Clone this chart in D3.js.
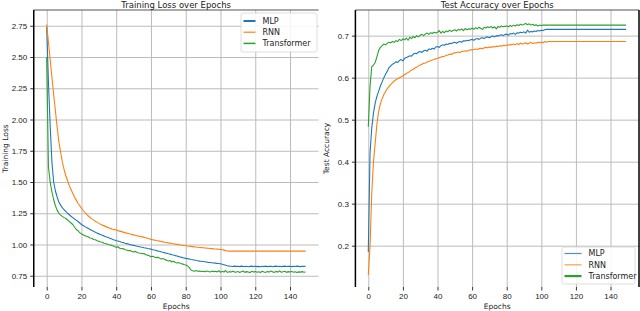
<!DOCTYPE html>
<html>
<head>
<meta charset="utf-8">
<script src="https://cdn.jsdelivr.net/npm/d3@7"></script>
<style>
  body { margin: 0; background: #fff; }
  svg { display: block; font-family: 'DejaVu Sans', sans-serif; }
  .tick text { fill: #222; font-size: 8px; }
  .axis path { display: none; }
  .axis line { stroke: #333; }
  .grid line { stroke: #bcbcbc; stroke-width: 1; }
  .grid path { display: none; }
  .grid text { display: none; }
</style>
</head>
<body>
<div id="svg-container"></div>
<script>
const series_names = ['MLP', 'RNN', 'Transformer'];
const series_colors = ['#1f77b4', '#ff7f0e', '#2ca02c'];

const x_ticks = [0, 20, 40, 60, 80, 100, 120, 140];
const loss_ticks = [0.75, 1.00, 1.25, 1.50, 1.75, 2.00, 2.25, 2.50, 2.75];
const acc_ticks = [0.2, 0.3, 0.4, 0.5, 0.6, 0.7];

// training loss per epoch (0..149)
const loss_mlp = [
  2.74, 2.30, 1.95, 1.66, 1.50, 1.43, 1.38, 1.34, 1.315, 1.295,
  1.278, 1.265, 1.25, 1.238, 1.226, 1.215, 1.204, 1.195, 1.184, 1.172,
  1.160, 1.152, 1.143, 1.136, 1.128, 1.120, 1.112, 1.106, 1.098, 1.091,
  1.085, 1.080, 1.073, 1.068, 1.062, 1.058, 1.052, 1.047, 1.040, 1.036,
  1.030, 1.028, 1.024, 1.018, 1.016, 1.010, 1.007, 1.004, 0.999, 0.996,
  0.993, 0.990, 0.986, 0.984, 0.980, 0.978, 0.974, 0.972, 0.968, 0.966,
  0.963, 0.958, 0.956, 0.952, 0.947, 0.946, 0.940, 0.938, 0.933, 0.930,
  0.926, 0.923, 0.918, 0.916, 0.911, 0.908, 0.903, 0.900, 0.895, 0.892,
  0.889, 0.887, 0.884, 0.880, 0.878, 0.876, 0.872, 0.870, 0.867, 0.866,
  0.864, 0.862, 0.860, 0.857, 0.856, 0.854, 0.852, 0.851, 0.849, 0.848,
  0.846, 0.842, 0.838, 0.834, 0.830, 0.827, 0.826, 0.824, 0.827, 0.825,
  0.826, 0.823, 0.827, 0.825, 0.824, 0.826, 0.822, 0.825, 0.827, 0.824,
  0.826, 0.823, 0.825, 0.822, 0.826, 0.824, 0.827, 0.823, 0.825, 0.826,
  0.822, 0.825, 0.827, 0.824, 0.826, 0.823, 0.825, 0.827, 0.824, 0.826,
  0.825, 0.823, 0.826, 0.824, 0.827, 0.825, 0.823, 0.826, 0.825, 0.826
];
const loss_rnn = [
  2.76, 2.62, 2.48, 2.34, 2.20, 2.07, 1.94, 1.82, 1.74, 1.66,
  1.60, 1.55, 1.51, 1.47, 1.44, 1.41, 1.38, 1.355, 1.33, 1.31,
  1.29, 1.272, 1.256, 1.241, 1.228, 1.216, 1.205, 1.195, 1.186, 1.177,
  1.169, 1.162, 1.155, 1.149, 1.143, 1.137, 1.132, 1.127, 1.122, 1.119,
  1.116, 1.111, 1.107, 1.103, 1.099, 1.095, 1.091, 1.088, 1.084, 1.081,
  1.077, 1.074, 1.070, 1.067, 1.064, 1.061, 1.057, 1.054, 1.050, 1.046,
  1.041, 1.038, 1.035, 1.032, 1.030, 1.027, 1.024, 1.021, 1.018, 1.016,
  1.013, 1.011, 1.008, 1.006, 1.003, 1.001, 0.999, 0.996, 0.994, 0.992,
  0.990, 0.988, 0.986, 0.985, 0.983, 0.981, 0.980, 0.978, 0.976, 0.975,
  0.974, 0.972, 0.971, 0.970, 0.968, 0.967, 0.965, 0.964, 0.963, 0.962,
  0.961, 0.958, 0.955, 0.951, 0.948, 0.947, 0.947, 0.947, 0.947, 0.947,
  0.947, 0.947, 0.947, 0.947, 0.947, 0.947, 0.947, 0.947, 0.947, 0.947,
  0.947, 0.947, 0.947, 0.947, 0.947, 0.947, 0.947, 0.947, 0.947, 0.947,
  0.947, 0.947, 0.947, 0.947, 0.947, 0.947, 0.947, 0.947, 0.947, 0.947,
  0.947, 0.947, 0.947, 0.947, 0.947, 0.947, 0.947, 0.947, 0.947, 0.947
];
const loss_transformer = [
  2.50, 1.62, 1.50, 1.42, 1.36, 1.31, 1.275, 1.25, 1.235, 1.225,
  1.215, 1.208, 1.196, 1.185, 1.172, 1.160, 1.140, 1.120, 1.110, 1.095,
  1.084, 1.078, 1.070, 1.066, 1.060, 1.052, 1.050, 1.040, 1.038, 1.030,
  1.026, 1.020, 1.018, 1.010, 1.008, 1.002, 0.998, 0.995, 0.990, 0.984,
  0.977, 0.982, 0.970, 0.966, 0.968, 0.958, 0.956, 0.950, 0.953, 0.944,
  0.940, 0.945, 0.936, 0.932, 0.930, 0.926, 0.928, 0.918, 0.915, 0.910,
  0.902, 0.906, 0.900, 0.895, 0.898, 0.890, 0.884, 0.888, 0.879, 0.875,
  0.868, 0.872, 0.860, 0.866, 0.856, 0.852, 0.855, 0.848, 0.845, 0.840,
  0.836, 0.830, 0.815, 0.796, 0.790, 0.786, 0.792, 0.785, 0.788, 0.784,
  0.786, 0.782, 0.788, 0.784, 0.780, 0.787, 0.783, 0.786, 0.781, 0.790,
  0.778, 0.785, 0.780, 0.792, 0.776, 0.783, 0.779, 0.786, 0.781, 0.778,
  0.785, 0.776, 0.782, 0.788, 0.777, 0.783, 0.780, 0.775, 0.786, 0.779,
  0.784, 0.778, 0.782, 0.776, 0.786, 0.780, 0.777, 0.784, 0.779, 0.788,
  0.781, 0.777, 0.785, 0.779, 0.789, 0.778, 0.782, 0.786, 0.777, 0.783,
  0.780, 0.785, 0.778, 0.782, 0.776, 0.781, 0.779, 0.783, 0.778, 0.780
];

// test accuracy per epoch (0..149)
const acc_mlp = [
  0.185, 0.420, 0.480, 0.516, 0.540, 0.556, 0.568, 0.580, 0.590, 0.600,
  0.608, 0.616, 0.624, 0.628, 0.632, 0.634, 0.638, 0.636, 0.641, 0.643,
  0.640, 0.646, 0.648, 0.650, 0.652, 0.651, 0.656, 0.658, 0.657, 0.661,
  0.662, 0.660, 0.664, 0.665, 0.663, 0.668, 0.667, 0.670, 0.668, 0.673,
  0.674, 0.672, 0.676, 0.678, 0.677, 0.680, 0.679, 0.682, 0.681, 0.683,
  0.684, 0.682, 0.685, 0.686, 0.684, 0.688, 0.687, 0.689, 0.688, 0.690,
  0.691, 0.689, 0.692, 0.693, 0.691, 0.694, 0.695, 0.693, 0.696, 0.697,
  0.695, 0.698, 0.699, 0.697, 0.700, 0.699, 0.701, 0.702, 0.700, 0.703,
  0.703, 0.701, 0.705, 0.704, 0.706, 0.703, 0.707, 0.706, 0.708, 0.707,
  0.709, 0.706, 0.713, 0.708, 0.710, 0.709, 0.711, 0.710, 0.712, 0.711,
  0.713, 0.712, 0.714, 0.715, 0.715, 0.715, 0.715, 0.715, 0.715, 0.715,
  0.715, 0.715, 0.715, 0.715, 0.715, 0.715, 0.715, 0.715, 0.715, 0.715,
  0.715, 0.715, 0.715, 0.715, 0.715, 0.715, 0.715, 0.715, 0.715, 0.715,
  0.715, 0.715, 0.715, 0.715, 0.715, 0.715, 0.715, 0.715, 0.715, 0.715,
  0.715, 0.715, 0.715, 0.715, 0.715, 0.715, 0.715, 0.715, 0.715, 0.715
];
const acc_rnn = [
  0.130, 0.198, 0.325, 0.400, 0.445, 0.490, 0.520, 0.538, 0.550, 0.560,
  0.567, 0.574, 0.579, 0.584, 0.588, 0.592, 0.595, 0.598, 0.600, 0.602,
  0.604, 0.607, 0.610, 0.612, 0.615, 0.618, 0.620, 0.623, 0.625, 0.628,
  0.630, 0.632, 0.634, 0.635, 0.637, 0.639, 0.640, 0.642, 0.643, 0.645,
  0.646, 0.647, 0.649, 0.650, 0.651, 0.653, 0.654, 0.656, 0.655, 0.658,
  0.659, 0.660, 0.661, 0.660, 0.662, 0.663, 0.664, 0.663, 0.665, 0.666,
  0.666, 0.667, 0.668, 0.667, 0.669, 0.670, 0.669, 0.671, 0.672, 0.671,
  0.673, 0.672, 0.674, 0.673, 0.675, 0.674, 0.676, 0.675, 0.677, 0.676,
  0.678, 0.677, 0.679, 0.678, 0.680, 0.678, 0.681, 0.679, 0.682, 0.680,
  0.681, 0.683, 0.680, 0.682, 0.684, 0.681, 0.683, 0.682, 0.684, 0.683,
  0.685, 0.683, 0.686, 0.684, 0.686, 0.686, 0.686, 0.686, 0.686, 0.686,
  0.686, 0.686, 0.686, 0.686, 0.686, 0.686, 0.686, 0.686, 0.686, 0.686,
  0.686, 0.686, 0.686, 0.686, 0.686, 0.686, 0.686, 0.686, 0.686, 0.686,
  0.686, 0.686, 0.686, 0.686, 0.686, 0.686, 0.686, 0.686, 0.686, 0.686,
  0.686, 0.686, 0.686, 0.686, 0.686, 0.686, 0.686, 0.686, 0.686, 0.686
];
const acc_transformer = [
  0.483, 0.579, 0.626, 0.630, 0.636, 0.650, 0.665, 0.672, 0.676, 0.680,
  0.678, 0.682, 0.684, 0.683, 0.686, 0.684, 0.688, 0.686, 0.691, 0.688,
  0.692, 0.690, 0.694, 0.689, 0.696, 0.693, 0.698, 0.695, 0.700, 0.697,
  0.701, 0.703, 0.700, 0.704, 0.706, 0.703, 0.707, 0.705, 0.708, 0.706,
  0.708, 0.712, 0.706, 0.710, 0.707, 0.711, 0.709, 0.713, 0.710, 0.712,
  0.714, 0.711, 0.715, 0.713, 0.716, 0.712, 0.717, 0.714, 0.716, 0.715,
  0.718, 0.715, 0.719, 0.716, 0.720, 0.717, 0.715, 0.720, 0.718, 0.721,
  0.719, 0.722, 0.718, 0.721, 0.716, 0.722, 0.720, 0.723, 0.721, 0.722,
  0.723, 0.721, 0.724, 0.722, 0.725, 0.723, 0.726, 0.724, 0.727, 0.725,
  0.727, 0.729, 0.726, 0.728, 0.725, 0.727, 0.724, 0.726, 0.723, 0.725,
  0.724, 0.725, 0.725, 0.725, 0.725, 0.725, 0.725, 0.725, 0.725, 0.725,
  0.725, 0.725, 0.725, 0.725, 0.725, 0.725, 0.725, 0.725, 0.725, 0.725,
  0.725, 0.725, 0.725, 0.725, 0.725, 0.725, 0.725, 0.725, 0.725, 0.725,
  0.725, 0.725, 0.725, 0.725, 0.725, 0.725, 0.725, 0.725, 0.725, 0.725,
  0.725, 0.725, 0.725, 0.725, 0.725, 0.725, 0.725, 0.725, 0.725, 0.725
];

const W = 640, H = 311;
const svg = d3.select('#svg-container').append('svg')
    .attr('width', W).attr('height', H);

// draws one panel (matplotlib-like)
const drawPanel = (p) => {
    const width = p.right - p.left;
    const height = p.bottom - p.top;
    const n = p.data[0].length;

    const x = d3.scaleLinear().domain([-(n - 1) * 0.05, (n - 1) * 1.05]).range([0, width]);
    const y = d3.scaleLinear().domain(p.yDomain).range([height, 0]);

    const g = svg.append('g').attr('transform', `translate(${p.left},${p.top})`);

    // grid
    g.append('g').attr('class', 'grid')
        .attr('transform', `translate(0,${height})`)
        .call(d3.axisBottom(x).tickValues(x_ticks).tickSize(-height));
    g.append('g').attr('class', 'grid')
        .call(d3.axisLeft(y).tickValues(p.yTicks).tickSize(-width));

    // axes
    g.append('g').attr('class', 'axis')
        .attr('transform', `translate(0,${height})`)
        .call(d3.axisBottom(x).tickValues(x_ticks).tickSize(3.5).tickPadding(3).tickFormat(d3.format('d')));
    g.append('g').attr('class', 'axis')
        .call(d3.axisLeft(y).tickValues(p.yTicks).tickSize(3.5).tickPadding(3).tickFormat(p.yFormat));

    // lines
    const line = d3.line().x((d, i) => x(i)).y(d => y(d));
    const clipId = 'clip-' + Math.round(p.left);
    g.append('clipPath').attr('id', clipId)
        .append('rect').attr('width', width).attr('height', height);
    g.append('g').attr('clip-path', `url(#${clipId})`)
        .selectAll('path').data(p.data).enter()
        .append('path')
        .attr('d', line)
        .attr('fill', 'none')
        .attr('stroke', (d, i) => series_colors[i])
        .attr('stroke-width', 1.1)
        .attr('stroke-linejoin', 'round');

    // spines
    g.append('line').attr('x1', 0).attr('x2', width).attr('y1', 0).attr('y2', 0)
        .attr('stroke', '#555').attr('stroke-width', 1.2);
    g.append('line').attr('x1', 0).attr('x2', 0).attr('y1', 0).attr('y2', height)
        .attr('stroke', '#000').attr('stroke-width', 1.5);
    if (p.rightSpine) {
        g.append('line').attr('x1', width).attr('x2', width).attr('y1', 0).attr('y2', height)
            .attr('stroke', '#000').attr('stroke-width', 1.5);
    }

    // title + labels
    g.append('text').attr('x', width / 2).attr('y', -2.5)
        .attr('text-anchor', 'middle').style('font-size', '8.5px').style('fill', '#222')
        .text(p.title);
    g.append('text').attr('x', width / 2).attr('y', height + 22)
        .attr('text-anchor', 'middle').style('font-size', '7.5px').style('fill', '#222')
        .text('Epochs');
    g.append('text')
        .attr('transform', `translate(${p.yLabelX - p.left},${height / 2}) rotate(-90)`)
        .attr('text-anchor', 'middle').style('font-size', '7.5px').style('fill', '#222')
        .text(p.yLabel);

    // legend
    const lg = g.append('g').attr('transform', `translate(${p.legend.x - p.left},${p.legend.y - p.top})`);
    lg.append('rect').attr('width', p.legend.w).attr('height', p.legend.h)
        .attr('rx', 2).attr('fill', '#fff').attr('fill-opacity', 0.85)
        .attr('stroke', '#d6d6d6').attr('stroke-width', 0.8);
    const rows = lg.selectAll('g.item').data(series_names).enter()
        .append('g').attr('class', 'item')
        .attr('transform', (d, i) => `translate(0,${p.legend.row0 + i * p.legend.step})`);
    rows.append('line').attr('x1', 2.5).attr('x2', 2.5 + p.legend.lineLen)
        .attr('stroke', (d, i) => series_colors[i])
        .attr('stroke-width', (d, i) => p.legend.widths[i])
        .attr('stroke-opacity', (d, i) => p.legend.opacity[i]);
    rows.append('text').attr('x', 2.5 + p.legend.lineLen + 7).attr('y', 2.8)
        .style('font-size', '8px').style('fill', '#222')
        .text(d => d);
};

drawPanel({
    left: 33.75, right: 318.6, top: 10, bottom: 287,
    data: [loss_mlp, loss_rnn, loss_transformer],
    yDomain: [0.66, 2.876], yTicks: loss_ticks, yFormat: d3.format('.2f'),
    title: 'Training Loss over Epochs', yLabel: 'Training Loss', yLabelX: 8,
    rightSpine: false,
    legend: { x: 241, y: 13, w: 76, h: 39, row0: 8, step: 11.2, lineLen: 12,
              widths: [2, 1.2, 1.5], opacity: [1, 1, 1] }
});

drawPanel({
    left: 355.4, right: 639, top: 10, bottom: 287,
    data: [acc_mlp, acc_rnn, acc_transformer],
    yDomain: [0.1017, 0.761], yTicks: acc_ticks, yFormat: d3.format('.1f'),
    title: 'Test Accuracy over Epochs', yLabel: 'Test Accuracy', yLabelX: 329,
    rightSpine: true,
    legend: { x: 562, y: 247, w: 73, h: 37, row0: 6.5, step: 11.3, lineLen: 17,
              widths: [1.2, 1.5, 2.2], opacity: [0.8, 0.6, 1] }
});
</script>
</body>
</html>
